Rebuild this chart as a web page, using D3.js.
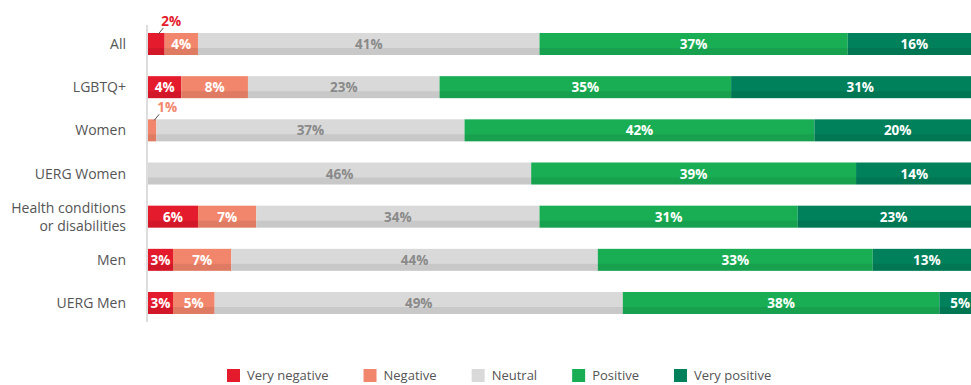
<!DOCTYPE html>
<html>
<head>
<meta charset="utf-8">
<script src="https://cdn.jsdelivr.net/npm/d3@7"></script>
<style>
  body { margin: 0; background: #fff; }
  svg { display: block; font-family: "Open Sans", "Noto Sans", sans-serif; }
</style>
</head>
<body>
<div class="chart-js"></div>
<script>
'use strict';

// Data
var groups = ['All', 'LGBTQ+', 'Women', 'UERG Women', 'Health conditions|or disabilities', 'Men', 'UERG Men'];
var levels = ['Very negative', 'Negative', 'Neutral', 'Positive', 'Very positive'];
var veryNegative = [2, 4, 0, 0, 6, 3, 3];
var negative     = [4, 8, 1, 0, 7, 7, 5];
var neutral      = [41, 23, 37, 46, 34, 44, 49];
var positive     = [37, 35, 42, 39, 31, 33, 38];
var veryPositive = [16, 31, 20, 14, 23, 13, 5];

var colors = ['#e41b2c', '#f2866c', '#d9d9d9', '#19ae54', '#00805b'];
var labelColors = ['#fff', '#fff', '#8a8a8a', '#fff', '#fff'];

function run() {
  var owidth = 971, oheight = 385;
  var left = 148;

  var series = [veryNegative, negative, neutral, positive, veryPositive];

  var x = d3.scaleLinear().domain([0, 100]).range([left, left + 833]);
  var y = d3.scalePoint().domain(groups).range([44, 303]);
  var barH = 22;

  var svg = d3.select('.chart-js').append('svg')
    .attr('width', owidth)
    .attr('height', oheight);

  // segments
  var segs = [];
  groups.forEach(function(g, i) {
    var acc = 0;
    series.forEach(function(s, k) {
      var v = s[i];
      if (v > 0) segs.push({ group: g, level: k, v: v, x0: acc, x1: acc + v });
      acc += v;
    });
  });

  var seg = svg.append('g').selectAll('g')
    .data(segs)
    .enter().append('g');

  seg.append('rect')
    .attr('x', function(d) { return x(d.x0); })
    .attr('y', function(d) { return y(d.group) - barH / 2; })
    .attr('width', function(d) { return x(d.x1) - x(d.x0); })
    .attr('height', barH)
    .attr('fill', function(d) { return colors[d.level]; });

  // darker bottom strip
  seg.append('rect')
    .attr('x', function(d) { return x(d.x0); })
    .attr('y', function(d) { return y(d.group) + barH / 2 - 7; })
    .attr('width', function(d) { return x(d.x1) - x(d.x0); })
    .attr('height', 7)
    .attr('fill', '#000')
    .attr('fill-opacity', 0.08);

  // labels inside bars
  seg.filter(function(d) { return d.v >= 3; })
    .append('text')
    .attr('x', function(d) { return (x(d.x0) + x(d.x1)) / 2; })
    .attr('y', function(d) { return y(d.group) + 5; })
    .attr('text-anchor', 'middle')
    .attr('font-size', 13.5)
    .attr('font-weight', 700)
    .attr('fill', function(d) { return labelColors[d.level]; })
    .text(function(d) { return d.v + '%'; });

  // small values: label above with leader line
  var small = seg.filter(function(d) { return d.v < 3; });
  small.append('line')
    .attr('x1', function(d) { return (x(d.x0) + x(d.x1)) / 2 + 2; })
    .attr('y1', function(d) { return y(d.group) - barH / 2 + 1; })
    .attr('x2', function(d) { return (x(d.x0) + x(d.x1)) / 2 + 7; })
    .attr('y2', function(d) { return y(d.group) - barH / 2 - 5; })
    .attr('stroke', '#555')
    .attr('stroke-width', 1);
  small.append('text')
    .attr('x', function(d) { return (x(d.x0) + x(d.x1)) / 2 + 5; })
    .attr('y', function(d) { return y(d.group) - barH / 2 - 7; })
    .attr('font-size', 13.5)
    .attr('font-weight', 700)
    .attr('fill', function(d) { return colors[d.level]; })
    .text(function(d) { return d.v + '%'; });

  // baseline axis
  svg.append('line')
    .attr('x1', left - 1).attr('x2', left - 1)
    .attr('y1', 25).attr('y2', 322)
    .attr('stroke', '#bbb');

  // category labels
  var cat = svg.append('g').selectAll('text')
    .data(groups)
    .enter().append('text')
    .attr('text-anchor', 'end')
    .attr('font-size', 14)
    .attr('fill', '#555')
    .attr('y', function(d) { return y(d) + 5 - (d.split('|').length - 1) * 9; });
  cat.selectAll('tspan')
    .data(function(d) { return d.split('|'); })
    .enter().append('tspan')
    .attr('x', 126)
    .attr('dy', function(d, i) { return i === 0 ? 0 : 18; })
    .text(function(d) { return d; });

  // legend
  var legend = svg.append('g');
  var lx = 227;
  levels.forEach(function(l, k) {
    var item = legend.append('g').attr('transform', 'translate(' + lx + ',369)');
    item.append('rect').attr('width', 13).attr('height', 13).attr('fill', colors[k]);
    var t = item.append('text')
      .attr('x', 20).attr('y', 11)
      .attr('font-size', 13)
      .attr('fill', '#555')
      .text(l);
    lx += 20 + t.node().getComputedTextLength() + 35;
  });
}

document.addEventListener('DOMContentLoaded', run);
</script>
</body>
</html>
